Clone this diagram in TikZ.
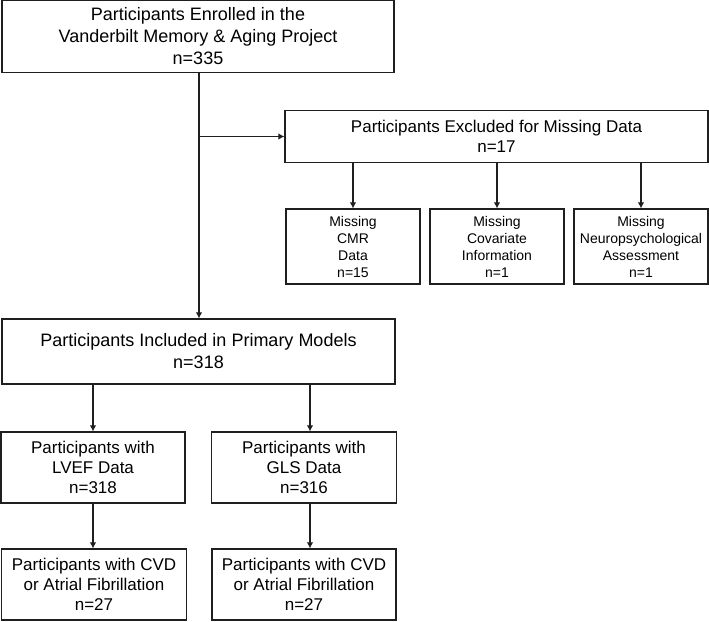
\documentclass[tikz,border=0pt]{standalone}
\usepackage{fontspec}
\setmainfont{Liberation Sans}
\usetikzlibrary{arrows.meta}
\begin{document}
\begin{tikzpicture}[x=1pt,y=-1pt,
  box/.style={draw=black!88, line width=1.2pt, align=center, inner sep=0pt, fill=white},
  big/.style={box, font=\fontsize{18}{22}\selectfont},
  mid/.style={box, font=\fontsize{17}{20}\selectfont},
  small/.style={box, font=\fontsize{14}{17}\selectfont, minimum width=134pt, minimum height=75pt},
  arr/.style={draw=black!88, line width=1.1pt, -{Latex[length=6pt,width=6.5pt]}}]
\useasboundingbox[fill=white] (0,0) rectangle (709,621);
\node[big, minimum width=392pt, minimum height=72pt] (top) at (198,36.5)
  {Participants Enrolled in the\\Vanderbilt Memory \& Aging Project\\n=335};
\node[mid, minimum width=423pt, minimum height=52pt] (excl) at (496.5,136.5)
  {Participants Excluded for Missing Data\\n=17};
\node[small] (s1) at (353,246.5) {Missing\\CMR\\Data\\n=15};
\node[small] (s2) at (497,246.5) {Missing\\Covariate\\Information\\n=1};
\node[small] (s3) at (641,246.5) {Missing\\Neuropsychological\\Assessment\\n=1};
\node[big, minimum width=393pt, minimum height=65pt] (prim) at (198.5,351.5)
  {Participants Included in Primary Models\\n=318};
\node[mid, minimum width=184pt, minimum height=71pt] (lvef) at (93,467.5)
  {Participants with\\LVEF Data\\n=318};
\node[mid, minimum width=185pt, minimum height=71pt] (gls) at (304,467.5)
  {Participants with\\GLS Data\\n=316};
\node[mid, minimum width=185pt, minimum height=71pt] (cvd1) at (94,584.5)
  {Participants with CVD\\or Atrial Fibrillation\\n=27};
\node[mid, minimum width=184pt, minimum height=71pt] (cvd2) at (304,584.5)
  {Participants with CVD\\or Atrial Fibrillation\\n=27};
\coordinate (mainx) at (199,0);
\coordinate (lx) at (93,0);
\coordinate (rx) at (310,0);
\draw[arr] (top.south -| mainx) -- (prim.north -| mainx);
\draw[arr] (mainx |- excl.west) -- (excl.west);
\draw[arr] (excl.south -| s1.north) -- (s1.north);
\draw[arr] (excl.south -| s2.north) -- (s2.north);
\draw[arr] (excl.south -| s3.north) -- (s3.north);
\draw[arr] (prim.south -| lx) -- (lvef.north -| lx);
\draw[arr] (prim.south -| rx) -- (gls.north -| rx);
\draw[arr] (lvef.south -| lx) -- (cvd1.north -| lx);
\draw[arr] (gls.south -| rx) -- (cvd2.north -| rx);
\end{tikzpicture}
\end{document}
